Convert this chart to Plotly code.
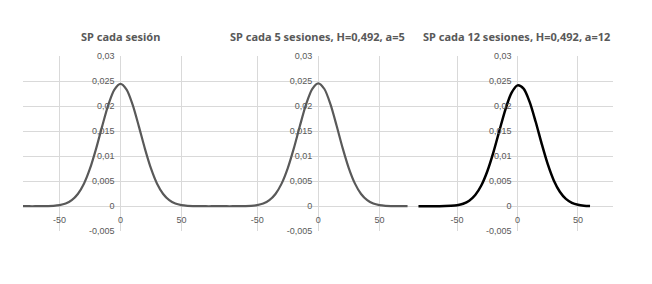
import plotly.graph_objects as go

W, H = 652, 284

# ---- data ----
titles = ["SP cada sesión", "SP cada 5 sesiones, H=0,492, a=5", "SP cada 12 sesiones, H=0,492, a=12"]

x1 = [-80, -75, -70, -65, -60, -55, -50, -45, -40, -35, -30, -25, -20, -15, -10, -5, 0,
      5, 10, 15, 20, 25, 30, 35, 40, 45, 50, 55, 60, 65, 70, 75, 80]
y1 = [0, 0, 0, 0.00001, 0.00003, 0.00008, 0.00022, 0.00054, 0.00121, 0.00244, 0.0045, 0.00755,
      0.01152, 0.01601, 0.02026, 0.02333, 0.02445,
      0.02333, 0.02026, 0.01601, 0.01152, 0.00755, 0.0045, 0.00244, 0.00121, 0.00054, 0.00022,
      0.00008, 0.00003, 0.00001, 0, 0, 0]

x2 = [-82, -80, -75, -70, -65, -60, -55, -50, -45, -40, -35, -30, -25, -20, -15, -10, -5, 0,
      5, 10, 15, 20, 25, 30, 35, 40, 45, 50, 55, 60, 65, 70, 73]
y2 = [0, 0, 0, 0, 0.00001, 0.00003, 0.00008, 0.00022, 0.00054, 0.00121, 0.00245, 0.00452, 0.00758,
      0.01157, 0.01608, 0.02035, 0.02343, 0.02456,
      0.02343, 0.02035, 0.01608, 0.01157, 0.00758, 0.00452, 0.00245, 0.00121, 0.00054, 0.00022,
      0.00008, 0.00003, 0.00001, 0, 0]

x3 = [-82, -80, -75, -70, -65, -60, -55, -50, -45, -40, -35, -30, -25, -20, -15, -10, -5, 0,
      5, 10, 15, 20, 25, 30, 35, 40, 45, 50, 55, 60]
y3 = [0, 0, 0, 0, 0.00001, 0.00003, 0.00008, 0.0002, 0.0005, 0.0011, 0.00224, 0.00414, 0.00699,
      0.01076, 0.01512, 0.01938, 0.02265, 0.02416,
      0.0235, 0.02086, 0.01688, 0.01247, 0.0084, 0.00516, 0.0029, 0.00148, 0.00069, 0.00029,
      0.00011, 0.00004]

ytick_vals = [-0.005, 0, 0.005, 0.01, 0.015, 0.02, 0.025, 0.03]
ytick_text = ["-0,005", "0", "0,005", "0,01", "0,015", "0,02", "0,025", "0,03"]
xtick_vals = [-50, 0, 50]
xtick_text = ["-50", "0", "50"]

# ---- layout ----
panels = [
    dict(x=x1, y=y1, color="#595959", width=2.2, px=(23, 218), xr=(-80, 80), tx=120),
    dict(x=x2, y=y2, color="#595959", width=2.2, px=(218, 410), xr=(-82, 75), tx=317),
    dict(x=x3, y=y3, color="#000000", width=2.5, px=(410, 613), xr=(-89, 79), tx=516),
]
y_top, y_bot = 53, 234.5
yr = (-0.005, 0.03)
ydom = [1 - y_bot / H, 1 - y_top / H]
yzero = ydom[0] + (0 - yr[0]) / (yr[1] - yr[0]) * (ydom[1] - ydom[0])

grid = "#d9d9d9"
tcol = "#595959"
fnt = "Liberation Sans"

fig = go.Figure()
annotations = []
for i, p in enumerate(panels, start=1):
    sx = "" if i == 1 else str(i)
    fig.add_trace(go.Scatter(x=p["x"], y=p["y"], mode="lines",
                             line=dict(color=p["color"], width=p["width"], shape="spline", smoothing=0.8),
                             xaxis="x" + sx, yaxis="y" + sx, showlegend=False, hoverinfo="skip"))
    xd = [p["px"][0] / W, p["px"][1] / W]
    xzero = xd[0] + (0 - p["xr"][0]) / (p["xr"][1] - p["xr"][0]) * (xd[1] - xd[0])
    fig.update_layout(**{
        "xaxis" + sx: dict(domain=xd, range=list(p["xr"]), anchor="free", position=yzero,
                           tickvals=xtick_vals, ticktext=xtick_text, showgrid=True, gridcolor=grid,
                           gridwidth=1, zeroline=False, showline=False, ticks="",
                           tickfont=dict(family=fnt, size=9, color=tcol), ticklabelstandoff=7,
                           fixedrange=True),
        "yaxis" + sx: dict(domain=ydom, range=list(yr), anchor="free", position=xzero,
                           tickvals=ytick_vals, ticktext=ytick_text, showgrid=True, gridcolor=grid,
                           gridwidth=1, zeroline=False, showline=False, ticks="",
                           tickfont=dict(family=fnt, size=9, color=tcol), ticklabelstandoff=6,
                           fixedrange=True),
    })
    annotations.append(dict(text="<b>" + titles[i - 1] + "</b>", x=p["tx"] / W, y=1 - 33 / H,
                            xref="paper", yref="paper", xanchor="center", yanchor="middle",
                            showarrow=False, font=dict(family="Noto Sans", size=11, color=tcol)))

fig.update_layout(width=W, height=H, margin=dict(l=0, r=0, t=0, b=0),
                  paper_bgcolor="white", plot_bgcolor="white", annotations=annotations,
                  showlegend=False)
fig.write_html("out.html")
